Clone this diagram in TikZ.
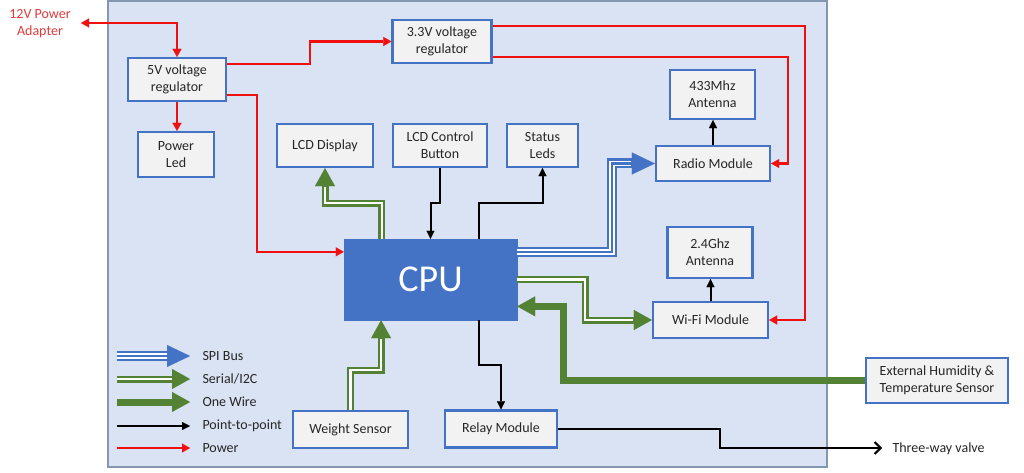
\documentclass[tikz,border=0pt]{standalone}
\usepackage{fontspec}
\setmainfont{Carlito}
\usetikzlibrary{arrows.meta,calc}
\definecolor{panelfill}{HTML}{DAE3F3}
\definecolor{paneldraw}{HTML}{8497B0}
\definecolor{boxfill}{HTML}{F2F2F2}
\definecolor{boxdraw}{HTML}{4472C4}
\definecolor{cblue}{HTML}{4472C4}
\definecolor{cgreen}{HTML}{548235}
\definecolor{cred}{HTML}{F01010}
\definecolor{credtxt}{HTML}{E03C3C}
\definecolor{ctext}{HTML}{262626}
\newcommand\serline[1]{\draw[serout] #1; \draw[serin] #1;}
\newcommand\spiline[1]{\draw[spiout] #1; \draw[spimid] #1; \draw[spiin] #1;}
\begin{document}
\begin{tikzpicture}[x=1pt,y=-1pt,
  txt/.style={font=\fontsize{14}{17}\selectfont, text=ctext},
  blk/.style={txt, draw=boxdraw, line width=2.2pt, fill=boxfill, align=center, inner sep=0pt},
  cpubox/.style={fill=cblue, draw=cblue, text=white, font=\fontsize{38}{40}\selectfont, inner sep=0pt, minimum width=173pt, minimum height=81pt},
  pwr/.style={draw=cred, line width=2.5pt, -{Triangle[length=8pt,width=9pt,line width=0.1pt]}},
  ptp/.style={draw=black, line width=2pt, -{Triangle[length=8pt,width=8pt,line width=0.1pt]}},
  serout/.style={draw=cgreen, line width=7pt, -{Triangle[length=18pt,width=20pt,line width=0.1pt]}},
  serin/.style={draw=white, line width=2.5pt, shorten >=18.5pt},
  spiout/.style={draw=cblue, line width=10pt, -{Triangle[length=23pt,width=22pt,line width=0.1pt]}},
  spimid/.style={draw=white, line width=5.5pt, shorten >=23.5pt},
  spiin/.style={draw=cblue, line width=2.5pt, shorten >=23.5pt},
  onew/.style={draw=cgreen, line width=7pt, -{Triangle[length=18pt,width=20pt,line width=0.1pt]}},
]
\useasboundingbox (0,0) rectangle (1024,473);
\fill[white] (0,0) rectangle (1024,473);
\draw[fill=panelfill, draw=paneldraw, line width=1.2pt] (108,1) rectangle (827,467);

% nodes
\node[blk, minimum width=98pt, minimum height=43pt] (v5) at (177,79.5) {5V voltage\\regulator};
\node[blk, minimum width=76pt, minimum height=45pt] (pled) at (176,154.5) {Power\\Led};
\node[blk, minimum width=99pt, minimum height=43pt] (v33) at (442,41.5) {3.3V voltage\\regulator};
\node[blk, minimum width=96pt, minimum height=43pt] (lcd) at (325,145.5) {LCD Display};
\node[blk, minimum width=94pt, minimum height=43pt] (lcdbtn) at (440,145.5) {LCD Control\\Button};
\node[blk, minimum width=71pt, minimum height=43pt] (sleds) at (542.5,145.5) {Status\\Leds};
\node[blk, minimum width=85pt, minimum height=49pt] (ant433) at (712.5,94.5) {433Mhz\\Antenna};
\node[blk, minimum width=114pt, minimum height=35pt] (radio) at (713,163.5) {Radio Module};
\node[cpubox] (cpu) at (430.5,279.5) {CPU};
\node[blk, minimum width=85pt, minimum height=51pt] (ant24) at (710,252.5) {2.4Ghz\\Antenna};
\node[blk, minimum width=115pt, minimum height=36pt] (wifi) at (710.5,320) {Wi-Fi Module};
\node[blk, minimum width=142pt, minimum height=45pt] (ext) at (937,380.5) {External Humidity \&\\Temperature Sensor};
\node[blk, minimum width=112pt, minimum height=37pt] (relay) at (501,429) {Relay Module};
\node[blk, minimum width=115pt, minimum height=37pt] (weight) at (350.5,429.5) {Weight Sensor};
\node[txt, anchor=west] (valve) at (889,448.5) {Three-way valve};
\node[txt, text=credtxt, align=center] (adtxt) at (40,23.5) {12V Power\\Adapter};

% helper coordinates
\coordinate (adapt) at (81,23);
\coordinate (vtip) at (882,448);
\coordinate (r1) at (0,203);
\coordinate (r2) at (0,365);
\coordinate (r3) at (0,370);
\coordinate (c1) at (310,0);
\coordinate (c2) at (257,0);
\coordinate (c3) at (788,0);
\coordinate (c4) at (805,0);
\coordinate (c6) at (720,0);
\coordinate (c7) at (585,0);
\coordinate (c8) at (612,0);
\coordinate (c9) at (563,0);
\coordinate (pA) at ($(v5.north east)!0.16!(v5.south east)$);
\coordinate (pB) at ($(v5.north east)!0.84!(v5.south east)$);
\coordinate (pC) at ($(cpu.north west)!0.16!(cpu.south west)$);
\coordinate (pD) at ($(v33.north east)!0.84!(v33.south east)$);
\coordinate (pE) at ($(v33.north east)!0.16!(v33.south east)$);
\coordinate (pF) at ($(cpu.north west)!0.78!(cpu.north east)$);
\coordinate (pF2) at ($(cpu.south west)!0.78!(cpu.south east)$);
\coordinate (pG) at ($(cpu.north west)!0.22!(cpu.north east)$);
\coordinate (pI) at ($(cpu.south west)!0.215!(cpu.south east)$);
\coordinate (pK) at ($(cpu.north east)!0.16!(cpu.south east)$);
\coordinate (pL) at ($(cpu.north east)!0.83!(cpu.south east)$);

% power
\draw[pwr, {Triangle[length=8pt,width=9pt,line width=0.1pt]}-{Triangle[length=8pt,width=9pt,line width=0.1pt]}] (adapt) -| (v5.north);
\draw[pwr] (v5.south) -- (v5.south |- pled.north);
\draw[pwr] (pA) -| (c1 |- v33.west) -- (v33.west);
\draw[pwr] (pB) -| (c2 |- pC) -- (pC);
\draw[pwr] (pD) -| (c3 |- radio.east) -- (radio.east);
\draw[pwr] (pE) -| (c4 |- wifi.east) -- (wifi.east);

% point-to-point
\draw[ptp] (radio.north) -- (radio.north |- ant433.south);
\draw[ptp] (wifi.north) -- (wifi.north |- ant24.south);
\draw[ptp] (lcdbtn.south) -- (lcdbtn.south |- r1) -| (cpu.north);
\draw[ptp] (pF) -- (pF |- r1) -| (sleds.south);
\draw[ptp] (pF2) -- (pF2 |- r2) -| (relay.north);
\draw[draw=black, line width=2pt, -{Straight Barb[length=6pt,width=12pt,line width=2pt]}] (relay.east) -| (c6 |- vtip) -- (vtip);

% serial / I2C
\serline{(pG) -- (pG |- r1) -| (lcd.south)}
\serline{(weight.north) -- (weight.north |- r3) -| (pI)}
\serline{(cpu.east) -| (c7 |- wifi.west) -- (wifi.west)}

% SPI
\spiline{(pK) -| (c8 |- radio.west) -- (radio.west)}

% one wire
\draw[onew] (ext.west) -| (c9 |- pL) -- (pL);

% legend
\coordinate (l1a) at (117,356); \coordinate (l1b) at (190,356);
\coordinate (l2a) at (117,379); \coordinate (l2b) at (190,379);
\coordinate (l3a) at (117,402); \coordinate (l3b) at (190,402);
\coordinate (l4a) at (117,426); \coordinate (l4b) at (190,426);
\coordinate (l5a) at (117,448); \coordinate (l5b) at (190,448);
\spiline{(l1a) -- (l1b)}
\serline{(l2a) -- (l2b)}
\draw[onew] (l3a) -- (l3b);
\draw[ptp] (l4a) -- (l4b);
\draw[pwr] (l5a) -- (l5b);
\node[txt, anchor=west] (t1) at (199,356) {SPI Bus};
\node[txt, anchor=west] (t2) at (199,379) {Serial/I2C};
\node[txt, anchor=west] (t3) at (199,402) {One Wire};
\node[txt, anchor=west] (t4) at (199,426) {Point-to-point};
\node[txt, anchor=west] (t5) at (199,448) {Power};
\end{tikzpicture}
\end{document}
